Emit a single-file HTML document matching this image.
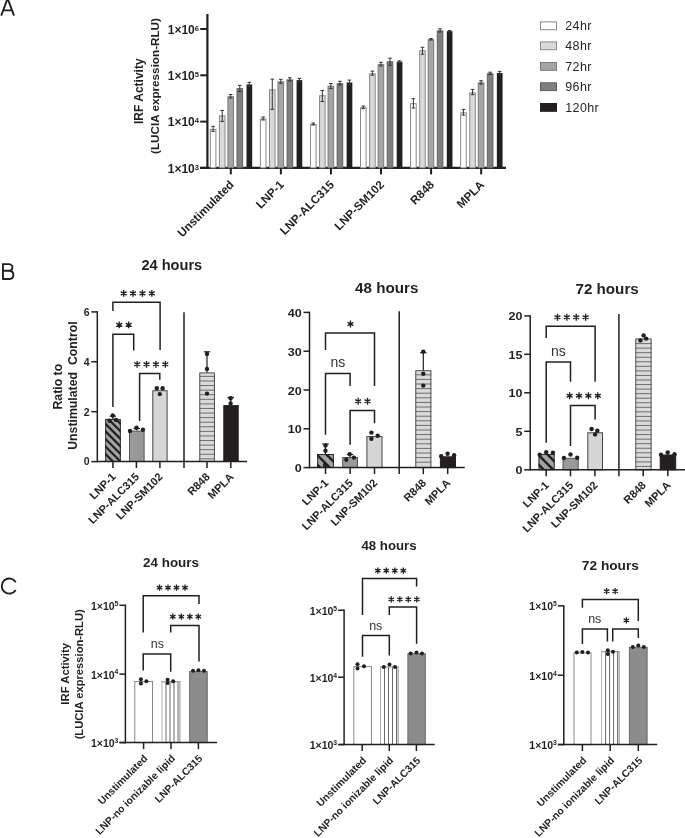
<!DOCTYPE html>
<html><head><meta charset="utf-8"><style>
html,body{margin:0;padding:0;background:#fff;}
body{width:685px;height:838px;overflow:hidden;}
svg{display:block;font-family:"Liberation Sans", sans-serif;will-change:transform;}
</style></head><body>
<svg width="685" height="838" viewBox="0 0 685 838">
<rect width="685" height="838" fill="#ffffff"/>
<path d="M1.2,15.7 L7.6,-1.6 L14.0,15.7 M3.9,10.4 L11.3,10.4" fill="none" stroke="#231f20" stroke-width="1.9" stroke-linejoin="miter"/>
<path d="M2.95,263.2 V279.8 M2.95,264.1 H8.4 C11.2,264.1 12.4,265.6 12.4,267.4 C12.4,269.4 10.9,270.8 8.4,270.8 H2.95 M8.4,270.8 C11.9,270.8 13.4,272.6 13.4,274.9 C13.4,277.4 11.5,278.95 8.6,278.95 H2.95" fill="none" stroke="#231f20" stroke-width="1.9"/>
<path d="M15.72,582.16 A7.55,7.55 0 1 0 15.72,589.94" fill="none" stroke="#231f20" stroke-width="1.9"/>
<line x1="207.40" y1="14.00" x2="207.40" y2="168.90" stroke="#231f20" stroke-width="2.2" stroke-linecap="butt"/>
<line x1="200.00" y1="167.90" x2="506.00" y2="167.90" stroke="#231f20" stroke-width="2.2" stroke-linecap="butt"/>
<line x1="200.20" y1="29.00" x2="207.40" y2="29.00" stroke="#231f20" stroke-width="2.0" stroke-linecap="butt"/>
<text x="199.00" y="33.60" font-size="12" font-weight="bold" text-anchor="end" fill="#231f20">1×10<tspan font-size="7.6" dy="-2.88">6</tspan></text>
<line x1="200.20" y1="75.30" x2="207.40" y2="75.30" stroke="#231f20" stroke-width="2.0" stroke-linecap="butt"/>
<text x="199.00" y="79.90" font-size="12" font-weight="bold" text-anchor="end" fill="#231f20">1×10<tspan font-size="7.6" dy="-2.88">5</tspan></text>
<line x1="200.20" y1="121.60" x2="207.40" y2="121.60" stroke="#231f20" stroke-width="2.0" stroke-linecap="butt"/>
<text x="199.00" y="126.20" font-size="12" font-weight="bold" text-anchor="end" fill="#231f20">1×10<tspan font-size="7.6" dy="-2.88">4</tspan></text>
<line x1="200.20" y1="167.90" x2="207.40" y2="167.90" stroke="#231f20" stroke-width="2.0" stroke-linecap="butt"/>
<text x="199.00" y="172.50" font-size="12" font-weight="bold" text-anchor="end" fill="#231f20">1×10<tspan font-size="7.6" dy="-2.88">3</tspan></text>
<rect x="210.30" y="129.50" width="5.60" height="38.40" fill="#ffffff" stroke="#8a8a8a" stroke-width="1"/>
<line x1="213.10" y1="126.30" x2="213.10" y2="131.30" stroke="#333333" stroke-width="1" stroke-linecap="butt"/>
<line x1="211.30" y1="126.30" x2="214.90" y2="126.30" stroke="#333333" stroke-width="1" stroke-linecap="butt"/>
<line x1="211.30" y1="131.30" x2="214.90" y2="131.30" stroke="#333333" stroke-width="1" stroke-linecap="butt"/>
<rect x="219.40" y="115.90" width="5.60" height="52.00" fill="#d9d9d9" stroke="#8a8a8a" stroke-width="1"/>
<line x1="222.20" y1="110.40" x2="222.20" y2="121.40" stroke="#333333" stroke-width="1" stroke-linecap="butt"/>
<line x1="220.40" y1="110.40" x2="224.00" y2="110.40" stroke="#333333" stroke-width="1" stroke-linecap="butt"/>
<line x1="220.40" y1="121.40" x2="224.00" y2="121.40" stroke="#333333" stroke-width="1" stroke-linecap="butt"/>
<rect x="227.90" y="96.70" width="5.60" height="71.20" fill="#a5a5a5" stroke="#7a7a7a" stroke-width="1"/>
<line x1="230.70" y1="94.50" x2="230.70" y2="98.00" stroke="#333333" stroke-width="1" stroke-linecap="butt"/>
<line x1="228.90" y1="94.50" x2="232.50" y2="94.50" stroke="#333333" stroke-width="1" stroke-linecap="butt"/>
<line x1="228.90" y1="98.00" x2="232.50" y2="98.00" stroke="#333333" stroke-width="1" stroke-linecap="butt"/>
<rect x="237.00" y="88.70" width="5.60" height="79.20" fill="#7f7f7f" stroke="#606060" stroke-width="1"/>
<line x1="239.80" y1="85.40" x2="239.80" y2="91.50" stroke="#333333" stroke-width="1" stroke-linecap="butt"/>
<line x1="238.00" y1="85.40" x2="241.60" y2="85.40" stroke="#333333" stroke-width="1" stroke-linecap="butt"/>
<line x1="238.00" y1="91.50" x2="241.60" y2="91.50" stroke="#333333" stroke-width="1" stroke-linecap="butt"/>
<rect x="246.50" y="84.50" width="5.70" height="83.40" fill="#231f20"/>
<line x1="249.30" y1="82.30" x2="249.30" y2="86.50" stroke="#333333" stroke-width="1" stroke-linecap="butt"/>
<line x1="247.50" y1="82.30" x2="251.10" y2="82.30" stroke="#333333" stroke-width="1" stroke-linecap="butt"/>
<line x1="247.50" y1="86.50" x2="251.10" y2="86.50" stroke="#333333" stroke-width="1" stroke-linecap="butt"/>
<line x1="230.80" y1="167.90" x2="230.80" y2="174.40" stroke="#231f20" stroke-width="2.0" stroke-linecap="butt"/>
<rect x="260.37" y="119.00" width="5.60" height="48.90" fill="#ffffff" stroke="#8a8a8a" stroke-width="1"/>
<line x1="263.17" y1="117.00" x2="263.17" y2="120.00" stroke="#333333" stroke-width="1" stroke-linecap="butt"/>
<line x1="261.37" y1="117.00" x2="264.97" y2="117.00" stroke="#333333" stroke-width="1" stroke-linecap="butt"/>
<line x1="261.37" y1="120.00" x2="264.97" y2="120.00" stroke="#333333" stroke-width="1" stroke-linecap="butt"/>
<rect x="269.47" y="89.80" width="5.60" height="78.10" fill="#d9d9d9" stroke="#8a8a8a" stroke-width="1"/>
<line x1="272.27" y1="79.10" x2="272.27" y2="109.30" stroke="#333333" stroke-width="1" stroke-linecap="butt"/>
<line x1="270.47" y1="79.10" x2="274.07" y2="79.10" stroke="#333333" stroke-width="1" stroke-linecap="butt"/>
<line x1="270.47" y1="109.30" x2="274.07" y2="109.30" stroke="#333333" stroke-width="1" stroke-linecap="butt"/>
<rect x="277.97" y="81.80" width="5.60" height="86.10" fill="#a5a5a5" stroke="#7a7a7a" stroke-width="1"/>
<line x1="280.77" y1="79.30" x2="280.77" y2="83.30" stroke="#333333" stroke-width="1" stroke-linecap="butt"/>
<line x1="278.97" y1="79.30" x2="282.57" y2="79.30" stroke="#333333" stroke-width="1" stroke-linecap="butt"/>
<line x1="278.97" y1="83.30" x2="282.57" y2="83.30" stroke="#333333" stroke-width="1" stroke-linecap="butt"/>
<rect x="287.07" y="79.90" width="5.60" height="88.00" fill="#7f7f7f" stroke="#606060" stroke-width="1"/>
<line x1="289.87" y1="77.70" x2="289.87" y2="81.00" stroke="#333333" stroke-width="1" stroke-linecap="butt"/>
<line x1="288.07" y1="77.70" x2="291.67" y2="77.70" stroke="#333333" stroke-width="1" stroke-linecap="butt"/>
<line x1="288.07" y1="81.00" x2="291.67" y2="81.00" stroke="#333333" stroke-width="1" stroke-linecap="butt"/>
<rect x="296.57" y="80.10" width="5.70" height="87.80" fill="#231f20"/>
<line x1="299.37" y1="78.40" x2="299.37" y2="81.80" stroke="#333333" stroke-width="1" stroke-linecap="butt"/>
<line x1="297.57" y1="78.40" x2="301.17" y2="78.40" stroke="#333333" stroke-width="1" stroke-linecap="butt"/>
<line x1="297.57" y1="81.80" x2="301.17" y2="81.80" stroke="#333333" stroke-width="1" stroke-linecap="butt"/>
<line x1="280.87" y1="167.90" x2="280.87" y2="174.40" stroke="#231f20" stroke-width="2.0" stroke-linecap="butt"/>
<rect x="310.44" y="124.50" width="5.60" height="43.40" fill="#ffffff" stroke="#8a8a8a" stroke-width="1"/>
<line x1="313.24" y1="123.00" x2="313.24" y2="125.00" stroke="#333333" stroke-width="1" stroke-linecap="butt"/>
<line x1="311.44" y1="123.00" x2="315.04" y2="123.00" stroke="#333333" stroke-width="1" stroke-linecap="butt"/>
<line x1="311.44" y1="125.00" x2="315.04" y2="125.00" stroke="#333333" stroke-width="1" stroke-linecap="butt"/>
<rect x="319.54" y="95.70" width="5.60" height="72.20" fill="#d9d9d9" stroke="#8a8a8a" stroke-width="1"/>
<line x1="322.34" y1="90.40" x2="322.34" y2="101.50" stroke="#333333" stroke-width="1" stroke-linecap="butt"/>
<line x1="320.54" y1="90.40" x2="324.14" y2="90.40" stroke="#333333" stroke-width="1" stroke-linecap="butt"/>
<line x1="320.54" y1="101.50" x2="324.14" y2="101.50" stroke="#333333" stroke-width="1" stroke-linecap="butt"/>
<rect x="328.04" y="86.20" width="5.60" height="81.70" fill="#a5a5a5" stroke="#7a7a7a" stroke-width="1"/>
<line x1="330.84" y1="83.50" x2="330.84" y2="88.60" stroke="#333333" stroke-width="1" stroke-linecap="butt"/>
<line x1="329.04" y1="83.50" x2="332.64" y2="83.50" stroke="#333333" stroke-width="1" stroke-linecap="butt"/>
<line x1="329.04" y1="88.60" x2="332.64" y2="88.60" stroke="#333333" stroke-width="1" stroke-linecap="butt"/>
<rect x="337.14" y="83.70" width="5.60" height="84.20" fill="#7f7f7f" stroke="#606060" stroke-width="1"/>
<line x1="339.94" y1="81.30" x2="339.94" y2="85.00" stroke="#333333" stroke-width="1" stroke-linecap="butt"/>
<line x1="338.14" y1="81.30" x2="341.74" y2="81.30" stroke="#333333" stroke-width="1" stroke-linecap="butt"/>
<line x1="338.14" y1="85.00" x2="341.74" y2="85.00" stroke="#333333" stroke-width="1" stroke-linecap="butt"/>
<rect x="346.64" y="82.50" width="5.70" height="85.40" fill="#231f20"/>
<line x1="349.44" y1="80.10" x2="349.44" y2="84.50" stroke="#333333" stroke-width="1" stroke-linecap="butt"/>
<line x1="347.64" y1="80.10" x2="351.24" y2="80.10" stroke="#333333" stroke-width="1" stroke-linecap="butt"/>
<line x1="347.64" y1="84.50" x2="351.24" y2="84.50" stroke="#333333" stroke-width="1" stroke-linecap="butt"/>
<line x1="330.94" y1="167.90" x2="330.94" y2="174.40" stroke="#231f20" stroke-width="2.0" stroke-linecap="butt"/>
<rect x="360.51" y="107.80" width="5.60" height="60.10" fill="#ffffff" stroke="#8a8a8a" stroke-width="1"/>
<line x1="363.31" y1="106.00" x2="363.31" y2="108.60" stroke="#333333" stroke-width="1" stroke-linecap="butt"/>
<line x1="361.51" y1="106.00" x2="365.11" y2="106.00" stroke="#333333" stroke-width="1" stroke-linecap="butt"/>
<line x1="361.51" y1="108.60" x2="365.11" y2="108.60" stroke="#333333" stroke-width="1" stroke-linecap="butt"/>
<rect x="369.61" y="73.80" width="5.60" height="94.10" fill="#d9d9d9" stroke="#8a8a8a" stroke-width="1"/>
<line x1="372.41" y1="71.10" x2="372.41" y2="75.20" stroke="#333333" stroke-width="1" stroke-linecap="butt"/>
<line x1="370.61" y1="71.10" x2="374.21" y2="71.10" stroke="#333333" stroke-width="1" stroke-linecap="butt"/>
<line x1="370.61" y1="75.20" x2="374.21" y2="75.20" stroke="#333333" stroke-width="1" stroke-linecap="butt"/>
<rect x="378.11" y="64.60" width="5.60" height="103.30" fill="#a5a5a5" stroke="#7a7a7a" stroke-width="1"/>
<line x1="380.91" y1="62.30" x2="380.91" y2="66.00" stroke="#333333" stroke-width="1" stroke-linecap="butt"/>
<line x1="379.11" y1="62.30" x2="382.71" y2="62.30" stroke="#333333" stroke-width="1" stroke-linecap="butt"/>
<line x1="379.11" y1="66.00" x2="382.71" y2="66.00" stroke="#333333" stroke-width="1" stroke-linecap="butt"/>
<rect x="387.21" y="61.80" width="5.60" height="106.10" fill="#7f7f7f" stroke="#606060" stroke-width="1"/>
<line x1="390.01" y1="58.20" x2="390.01" y2="65.30" stroke="#333333" stroke-width="1" stroke-linecap="butt"/>
<line x1="388.21" y1="58.20" x2="391.81" y2="58.20" stroke="#333333" stroke-width="1" stroke-linecap="butt"/>
<line x1="388.21" y1="65.30" x2="391.81" y2="65.30" stroke="#333333" stroke-width="1" stroke-linecap="butt"/>
<rect x="396.71" y="61.60" width="5.70" height="106.30" fill="#231f20"/>
<line x1="399.51" y1="60.80" x2="399.51" y2="62.50" stroke="#333333" stroke-width="1" stroke-linecap="butt"/>
<line x1="397.71" y1="60.80" x2="401.31" y2="60.80" stroke="#333333" stroke-width="1" stroke-linecap="butt"/>
<line x1="397.71" y1="62.50" x2="401.31" y2="62.50" stroke="#333333" stroke-width="1" stroke-linecap="butt"/>
<line x1="381.01" y1="167.90" x2="381.01" y2="174.40" stroke="#231f20" stroke-width="2.0" stroke-linecap="butt"/>
<rect x="410.58" y="103.70" width="5.60" height="64.20" fill="#ffffff" stroke="#8a8a8a" stroke-width="1"/>
<line x1="413.38" y1="98.70" x2="413.38" y2="108.00" stroke="#333333" stroke-width="1" stroke-linecap="butt"/>
<line x1="411.58" y1="98.70" x2="415.18" y2="98.70" stroke="#333333" stroke-width="1" stroke-linecap="butt"/>
<line x1="411.58" y1="108.00" x2="415.18" y2="108.00" stroke="#333333" stroke-width="1" stroke-linecap="butt"/>
<rect x="419.68" y="50.70" width="5.60" height="117.20" fill="#d9d9d9" stroke="#8a8a8a" stroke-width="1"/>
<line x1="422.48" y1="47.30" x2="422.48" y2="54.20" stroke="#333333" stroke-width="1" stroke-linecap="butt"/>
<line x1="420.68" y1="47.30" x2="424.28" y2="47.30" stroke="#333333" stroke-width="1" stroke-linecap="butt"/>
<line x1="420.68" y1="54.20" x2="424.28" y2="54.20" stroke="#333333" stroke-width="1" stroke-linecap="butt"/>
<rect x="428.18" y="39.80" width="5.60" height="128.10" fill="#a5a5a5" stroke="#7a7a7a" stroke-width="1"/>
<line x1="430.98" y1="38.60" x2="430.98" y2="40.00" stroke="#333333" stroke-width="1" stroke-linecap="butt"/>
<line x1="429.18" y1="38.60" x2="432.78" y2="38.60" stroke="#333333" stroke-width="1" stroke-linecap="butt"/>
<line x1="429.18" y1="40.00" x2="432.78" y2="40.00" stroke="#333333" stroke-width="1" stroke-linecap="butt"/>
<rect x="437.28" y="30.90" width="5.60" height="137.00" fill="#7f7f7f" stroke="#606060" stroke-width="1"/>
<line x1="440.08" y1="28.80" x2="440.08" y2="32.00" stroke="#333333" stroke-width="1" stroke-linecap="butt"/>
<line x1="438.28" y1="28.80" x2="441.88" y2="28.80" stroke="#333333" stroke-width="1" stroke-linecap="butt"/>
<line x1="438.28" y1="32.00" x2="441.88" y2="32.00" stroke="#333333" stroke-width="1" stroke-linecap="butt"/>
<rect x="446.78" y="31.20" width="5.70" height="136.70" fill="#231f20"/>
<line x1="449.58" y1="30.50" x2="449.58" y2="32.00" stroke="#333333" stroke-width="1" stroke-linecap="butt"/>
<line x1="447.78" y1="30.50" x2="451.38" y2="30.50" stroke="#333333" stroke-width="1" stroke-linecap="butt"/>
<line x1="447.78" y1="32.00" x2="451.38" y2="32.00" stroke="#333333" stroke-width="1" stroke-linecap="butt"/>
<line x1="431.08" y1="167.90" x2="431.08" y2="174.40" stroke="#231f20" stroke-width="2.0" stroke-linecap="butt"/>
<rect x="460.65" y="112.80" width="5.60" height="55.10" fill="#ffffff" stroke="#8a8a8a" stroke-width="1"/>
<line x1="463.45" y1="109.40" x2="463.45" y2="115.10" stroke="#333333" stroke-width="1" stroke-linecap="butt"/>
<line x1="461.65" y1="109.40" x2="465.25" y2="109.40" stroke="#333333" stroke-width="1" stroke-linecap="butt"/>
<line x1="461.65" y1="115.10" x2="465.25" y2="115.10" stroke="#333333" stroke-width="1" stroke-linecap="butt"/>
<rect x="469.75" y="92.80" width="5.60" height="75.10" fill="#d9d9d9" stroke="#8a8a8a" stroke-width="1"/>
<line x1="472.55" y1="89.40" x2="472.55" y2="94.70" stroke="#333333" stroke-width="1" stroke-linecap="butt"/>
<line x1="470.75" y1="89.40" x2="474.35" y2="89.40" stroke="#333333" stroke-width="1" stroke-linecap="butt"/>
<line x1="470.75" y1="94.70" x2="474.35" y2="94.70" stroke="#333333" stroke-width="1" stroke-linecap="butt"/>
<rect x="478.25" y="82.80" width="5.60" height="85.10" fill="#a5a5a5" stroke="#7a7a7a" stroke-width="1"/>
<line x1="481.05" y1="80.70" x2="481.05" y2="84.00" stroke="#333333" stroke-width="1" stroke-linecap="butt"/>
<line x1="479.25" y1="80.70" x2="482.85" y2="80.70" stroke="#333333" stroke-width="1" stroke-linecap="butt"/>
<line x1="479.25" y1="84.00" x2="482.85" y2="84.00" stroke="#333333" stroke-width="1" stroke-linecap="butt"/>
<rect x="487.35" y="73.80" width="5.60" height="94.10" fill="#7f7f7f" stroke="#606060" stroke-width="1"/>
<line x1="490.15" y1="72.20" x2="490.15" y2="74.50" stroke="#333333" stroke-width="1" stroke-linecap="butt"/>
<line x1="488.35" y1="72.20" x2="491.95" y2="72.20" stroke="#333333" stroke-width="1" stroke-linecap="butt"/>
<line x1="488.35" y1="74.50" x2="491.95" y2="74.50" stroke="#333333" stroke-width="1" stroke-linecap="butt"/>
<rect x="496.85" y="73.00" width="5.70" height="94.90" fill="#231f20"/>
<line x1="499.65" y1="71.40" x2="499.65" y2="74.50" stroke="#333333" stroke-width="1" stroke-linecap="butt"/>
<line x1="497.85" y1="71.40" x2="501.45" y2="71.40" stroke="#333333" stroke-width="1" stroke-linecap="butt"/>
<line x1="497.85" y1="74.50" x2="501.45" y2="74.50" stroke="#333333" stroke-width="1" stroke-linecap="butt"/>
<line x1="481.15" y1="167.90" x2="481.15" y2="174.40" stroke="#231f20" stroke-width="2.0" stroke-linecap="butt"/>
<text x="234.60" y="185.40" font-size="11.7" font-weight="bold" text-anchor="end" fill="#231f20" transform="rotate(-45 234.60 185.40)">Unstimulated</text>
<text x="284.67" y="185.40" font-size="11.7" font-weight="bold" text-anchor="end" fill="#231f20" transform="rotate(-45 284.67 185.40)">LNP-1</text>
<text x="334.74" y="185.40" font-size="11.7" font-weight="bold" text-anchor="end" fill="#231f20" transform="rotate(-45 334.74 185.40)">LNP-ALC315</text>
<text x="384.81" y="185.40" font-size="11.7" font-weight="bold" text-anchor="end" fill="#231f20" transform="rotate(-45 384.81 185.40)">LNP-SM102</text>
<text x="434.88" y="185.40" font-size="11.7" font-weight="bold" text-anchor="end" fill="#231f20" transform="rotate(-45 434.88 185.40)">R848</text>
<text x="484.95" y="185.40" font-size="11.7" font-weight="bold" text-anchor="end" fill="#231f20" transform="rotate(-45 484.95 185.40)">MPLA</text>
<text x="142.80" y="91.20" font-size="12" font-weight="bold" text-anchor="middle" fill="#231f20" transform="rotate(-90 142.80 91.20)">IRF Activity</text>
<text x="158.60" y="86.00" font-size="11.7" font-weight="bold" text-anchor="middle" fill="#231f20" transform="rotate(-90 158.60 86.00)">(LUCIA expression-RLU)</text>
<rect x="540.50" y="21.90" width="16.00" height="7.80" fill="#ffffff" stroke="#8a8a8a" stroke-width="1"/>
<text x="565.30" y="30.00" font-size="12.5" font-weight="normal" text-anchor="start" fill="#262626" letter-spacing="0.35">24hr</text>
<rect x="540.50" y="41.90" width="16.00" height="7.80" fill="#d9d9d9" stroke="#8a8a8a" stroke-width="1"/>
<text x="565.30" y="50.00" font-size="12.5" font-weight="normal" text-anchor="start" fill="#262626" letter-spacing="0.35">48hr</text>
<rect x="540.50" y="62.50" width="16.00" height="7.80" fill="#a5a5a5" stroke="#7a7a7a" stroke-width="1"/>
<text x="565.30" y="70.60" font-size="12.5" font-weight="normal" text-anchor="start" fill="#262626" letter-spacing="0.35">72hr</text>
<rect x="540.50" y="82.80" width="16.00" height="7.80" fill="#7f7f7f" stroke="#606060" stroke-width="1"/>
<text x="565.30" y="90.90" font-size="12.5" font-weight="normal" text-anchor="start" fill="#262626" letter-spacing="0.35">96hr</text>
<rect x="540.50" y="103.50" width="16.00" height="7.80" fill="#231f20" stroke="#231f20" stroke-width="1"/>
<text x="565.30" y="111.60" font-size="12.5" font-weight="normal" text-anchor="start" fill="#262626" letter-spacing="0.35">120hr</text>
<defs><clipPath id="c1"><rect x="105.30" y="419.00" width="15.40" height="42.50"/></clipPath></defs>
<rect x="105.30" y="419.00" width="15.40" height="42.50" fill="#a3a3a3"/>
<g clip-path="url(#c1)">
<line x1="100.30" y1="380.90" x2="125.70" y2="406.30" stroke="#231f20" stroke-width="2.2"/>
<line x1="100.30" y1="388.45" x2="125.70" y2="413.85" stroke="#231f20" stroke-width="2.2"/>
<line x1="100.30" y1="396.00" x2="125.70" y2="421.40" stroke="#231f20" stroke-width="2.2"/>
<line x1="100.30" y1="403.55" x2="125.70" y2="428.95" stroke="#231f20" stroke-width="2.2"/>
<line x1="100.30" y1="411.10" x2="125.70" y2="436.50" stroke="#231f20" stroke-width="2.2"/>
<line x1="100.30" y1="418.65" x2="125.70" y2="444.05" stroke="#231f20" stroke-width="2.2"/>
<line x1="100.30" y1="426.20" x2="125.70" y2="451.60" stroke="#231f20" stroke-width="2.2"/>
<line x1="100.30" y1="433.75" x2="125.70" y2="459.15" stroke="#231f20" stroke-width="2.2"/>
<line x1="100.30" y1="441.30" x2="125.70" y2="466.70" stroke="#231f20" stroke-width="2.2"/>
<line x1="100.30" y1="448.85" x2="125.70" y2="474.25" stroke="#231f20" stroke-width="2.2"/>
<line x1="100.30" y1="456.40" x2="125.70" y2="481.80" stroke="#231f20" stroke-width="2.2"/>
<line x1="100.30" y1="463.95" x2="125.70" y2="489.35" stroke="#231f20" stroke-width="2.2"/>
</g>
<rect x="105.70" y="419.40" width="14.60" height="42.10" fill="none" stroke="#231f20" stroke-width="0.9"/>
<rect x="129.50" y="431.10" width="14.60" height="30.40" fill="#999999" stroke="#555555" stroke-width="1"/>
<rect x="152.80" y="390.70" width="14.30" height="70.80" fill="#d6d6d6" stroke="#444444" stroke-width="1"/>
<rect x="199.40" y="372.50" width="15.40" height="89.00" fill="#dadada"/>
<line x1="199.40" y1="376.40" x2="214.80" y2="376.40" stroke="#5a5a5a" stroke-width="0.85" stroke-linecap="butt"/>
<line x1="199.40" y1="380.98" x2="214.80" y2="380.98" stroke="#5a5a5a" stroke-width="0.85" stroke-linecap="butt"/>
<line x1="199.40" y1="385.56" x2="214.80" y2="385.56" stroke="#5a5a5a" stroke-width="0.85" stroke-linecap="butt"/>
<line x1="199.40" y1="390.14" x2="214.80" y2="390.14" stroke="#5a5a5a" stroke-width="0.85" stroke-linecap="butt"/>
<line x1="199.40" y1="394.72" x2="214.80" y2="394.72" stroke="#5a5a5a" stroke-width="0.85" stroke-linecap="butt"/>
<line x1="199.40" y1="399.30" x2="214.80" y2="399.30" stroke="#5a5a5a" stroke-width="0.85" stroke-linecap="butt"/>
<line x1="199.40" y1="403.88" x2="214.80" y2="403.88" stroke="#5a5a5a" stroke-width="0.85" stroke-linecap="butt"/>
<line x1="199.40" y1="408.46" x2="214.80" y2="408.46" stroke="#5a5a5a" stroke-width="0.85" stroke-linecap="butt"/>
<line x1="199.40" y1="413.04" x2="214.80" y2="413.04" stroke="#5a5a5a" stroke-width="0.85" stroke-linecap="butt"/>
<line x1="199.40" y1="417.62" x2="214.80" y2="417.62" stroke="#5a5a5a" stroke-width="0.85" stroke-linecap="butt"/>
<line x1="199.40" y1="422.20" x2="214.80" y2="422.20" stroke="#5a5a5a" stroke-width="0.85" stroke-linecap="butt"/>
<line x1="199.40" y1="426.78" x2="214.80" y2="426.78" stroke="#5a5a5a" stroke-width="0.85" stroke-linecap="butt"/>
<line x1="199.40" y1="431.36" x2="214.80" y2="431.36" stroke="#5a5a5a" stroke-width="0.85" stroke-linecap="butt"/>
<line x1="199.40" y1="435.94" x2="214.80" y2="435.94" stroke="#5a5a5a" stroke-width="0.85" stroke-linecap="butt"/>
<line x1="199.40" y1="440.52" x2="214.80" y2="440.52" stroke="#5a5a5a" stroke-width="0.85" stroke-linecap="butt"/>
<line x1="199.40" y1="445.10" x2="214.80" y2="445.10" stroke="#5a5a5a" stroke-width="0.85" stroke-linecap="butt"/>
<line x1="199.40" y1="449.68" x2="214.80" y2="449.68" stroke="#5a5a5a" stroke-width="0.85" stroke-linecap="butt"/>
<line x1="199.40" y1="454.26" x2="214.80" y2="454.26" stroke="#5a5a5a" stroke-width="0.85" stroke-linecap="butt"/>
<line x1="199.40" y1="458.84" x2="214.80" y2="458.84" stroke="#5a5a5a" stroke-width="0.85" stroke-linecap="butt"/>
<rect x="199.80" y="372.90" width="14.60" height="88.60" fill="none" stroke="#444444" stroke-width="0.9"/>
<rect x="223.80" y="405.60" width="14.40" height="55.90" fill="#231f20" stroke="#231f20" stroke-width="1"/>
<line x1="97.30" y1="311.15" x2="97.30" y2="462.25" stroke="#231f20" stroke-width="1.5" stroke-linecap="butt"/>
<line x1="97.30" y1="461.50" x2="247.00" y2="461.50" stroke="#231f20" stroke-width="1.5" stroke-linecap="butt"/>
<line x1="91.30" y1="461.60" x2="97.30" y2="461.60" stroke="#231f20" stroke-width="1.5" stroke-linecap="butt"/>
<text transform="translate(89.60 465.40) scale(1.0 1)" font-size="10.5" font-weight="bold" text-anchor="end" fill="#231f20">0</text>
<line x1="91.30" y1="411.70" x2="97.30" y2="411.70" stroke="#231f20" stroke-width="1.5" stroke-linecap="butt"/>
<text transform="translate(89.60 415.50) scale(1.0 1)" font-size="10.5" font-weight="bold" text-anchor="end" fill="#231f20">2</text>
<line x1="91.30" y1="361.80" x2="97.30" y2="361.80" stroke="#231f20" stroke-width="1.5" stroke-linecap="butt"/>
<text transform="translate(89.60 365.60) scale(1.0 1)" font-size="10.5" font-weight="bold" text-anchor="end" fill="#231f20">4</text>
<line x1="91.30" y1="311.90" x2="97.30" y2="311.90" stroke="#231f20" stroke-width="1.5" stroke-linecap="butt"/>
<text transform="translate(89.60 315.70) scale(1.0 1)" font-size="10.5" font-weight="bold" text-anchor="end" fill="#231f20">6</text>
<line x1="184.00" y1="312.20" x2="184.00" y2="468.00" stroke="#231f20" stroke-width="1.5" stroke-linecap="butt"/>
<line x1="112.90" y1="461.50" x2="112.90" y2="468.00" stroke="#231f20" stroke-width="1.5" stroke-linecap="butt"/>
<line x1="136.40" y1="461.50" x2="136.40" y2="468.00" stroke="#231f20" stroke-width="1.5" stroke-linecap="butt"/>
<line x1="159.90" y1="461.50" x2="159.90" y2="468.00" stroke="#231f20" stroke-width="1.5" stroke-linecap="butt"/>
<line x1="207.00" y1="461.50" x2="207.00" y2="468.00" stroke="#231f20" stroke-width="1.5" stroke-linecap="butt"/>
<line x1="230.80" y1="461.50" x2="230.80" y2="468.00" stroke="#231f20" stroke-width="1.5" stroke-linecap="butt"/>
<line x1="112.90" y1="416.20" x2="112.90" y2="419.00" stroke="#231f20" stroke-width="1.2" stroke-linecap="butt"/>
<line x1="109.70" y1="416.20" x2="116.10" y2="416.20" stroke="#231f20" stroke-width="1.2" stroke-linecap="butt"/>
<line x1="207.00" y1="351.80" x2="207.00" y2="372.50" stroke="#231f20" stroke-width="1.2" stroke-linecap="butt"/>
<line x1="203.80" y1="351.80" x2="210.20" y2="351.80" stroke="#231f20" stroke-width="1.2" stroke-linecap="butt"/>
<line x1="230.80" y1="397.40" x2="230.80" y2="405.10" stroke="#231f20" stroke-width="1.2" stroke-linecap="butt"/>
<line x1="227.60" y1="397.40" x2="234.00" y2="397.40" stroke="#231f20" stroke-width="1.2" stroke-linecap="butt"/>
<line x1="136.80" y1="428.50" x2="136.80" y2="430.60" stroke="#231f20" stroke-width="1.2" stroke-linecap="butt"/>
<line x1="133.60" y1="428.50" x2="140.00" y2="428.50" stroke="#231f20" stroke-width="1.2" stroke-linecap="butt"/>
<circle cx="112.80" cy="415.50" r="2.2" fill="#231f20"/>
<circle cx="109.60" cy="420.80" r="2.2" fill="#231f20"/>
<circle cx="116.00" cy="419.90" r="2.2" fill="#231f20"/>
<circle cx="130.00" cy="431.00" r="2.2" fill="#231f20"/>
<circle cx="136.50" cy="427.80" r="2.2" fill="#231f20"/>
<circle cx="142.90" cy="429.80" r="2.2" fill="#231f20"/>
<circle cx="156.80" cy="388.20" r="2.2" fill="#231f20"/>
<circle cx="162.60" cy="388.20" r="2.2" fill="#231f20"/>
<circle cx="159.80" cy="394.10" r="2.2" fill="#231f20"/>
<circle cx="207.00" cy="353.90" r="2.2" fill="#231f20"/>
<circle cx="207.00" cy="368.90" r="2.2" fill="#231f20"/>
<circle cx="207.00" cy="393.60" r="2.2" fill="#231f20"/>
<circle cx="230.60" cy="398.30" r="2.2" fill="#231f20"/>
<circle cx="230.60" cy="403.40" r="2.2" fill="#231f20"/>
<polyline points="112.90,310.90 112.90,302.20 160.10,302.20 160.10,350.10" fill="none" stroke="#231f20" stroke-width="1.5" stroke-linejoin="miter"/>
<path d="M123.65,290.00L123.65,296.80M120.71,291.70L126.59,295.10M126.59,291.70L120.71,295.10M133.05,290.00L133.05,296.80M130.11,291.70L135.99,295.10M135.99,291.70L130.11,295.10M142.45,290.00L142.45,296.80M139.51,291.70L145.39,295.10M145.39,291.70L139.51,295.10M151.85,290.00L151.85,296.80M148.91,291.70L154.79,295.10M154.79,291.70L148.91,295.10" stroke="#231f20" stroke-width="1.35" fill="none"/>
<polyline points="112.90,407.00 112.90,334.30 133.70,334.30 133.70,350.50" fill="none" stroke="#231f20" stroke-width="1.5" stroke-linejoin="miter"/>
<path d="M119.25,321.45L119.25,328.25M116.31,323.15L122.19,326.55M122.19,323.15L116.31,326.55M128.65,321.45L128.65,328.25M125.71,323.15L131.59,326.55M131.59,323.15L125.71,326.55" stroke="#231f20" stroke-width="1.35" fill="none"/>
<polyline points="139.60,421.00 139.60,373.50 159.80,373.50 159.80,379.70" fill="none" stroke="#231f20" stroke-width="1.5" stroke-linejoin="miter"/>
<path d="M137.10,360.90L137.10,367.70M134.16,362.60L140.04,366.00M140.04,362.60L134.16,366.00M146.50,360.90L146.50,367.70M143.56,362.60L149.44,366.00M149.44,362.60L143.56,366.00M155.90,360.90L155.90,367.70M152.96,362.60L158.84,366.00M158.84,362.60L152.96,366.00M165.30,360.90L165.30,367.70M162.36,362.60L168.24,366.00M168.24,362.60L162.36,366.00" stroke="#231f20" stroke-width="1.35" fill="none"/>
<text x="171.80" y="270.30" font-size="14.6" font-weight="bold" text-anchor="middle" fill="#231f20">24 hours</text>
<text x="116.40" y="477.50" font-size="11" font-weight="bold" text-anchor="end" fill="#231f20" transform="rotate(-45 116.40 477.50)">LNP-1</text>
<text x="139.90" y="477.50" font-size="11" font-weight="bold" text-anchor="end" fill="#231f20" transform="rotate(-45 139.90 477.50)">LNP-ALC315</text>
<text x="163.40" y="477.50" font-size="11" font-weight="bold" text-anchor="end" fill="#231f20" transform="rotate(-45 163.40 477.50)">LNP-SM102</text>
<text x="210.50" y="477.50" font-size="11" font-weight="bold" text-anchor="end" fill="#231f20" transform="rotate(-45 210.50 477.50)">R848</text>
<text x="234.30" y="477.50" font-size="11" font-weight="bold" text-anchor="end" fill="#231f20" transform="rotate(-45 234.30 477.50)">MPLA</text>
<defs><clipPath id="c2"><rect x="317.30" y="454.10" width="16.50" height="13.50"/></clipPath></defs>
<rect x="317.30" y="454.10" width="16.50" height="13.50" fill="#a3a3a3"/>
<g clip-path="url(#c2)">
<line x1="312.30" y1="421.00" x2="338.80" y2="447.50" stroke="#231f20" stroke-width="2.5"/>
<line x1="312.30" y1="430.70" x2="338.80" y2="457.20" stroke="#231f20" stroke-width="2.5"/>
<line x1="312.30" y1="440.40" x2="338.80" y2="466.90" stroke="#231f20" stroke-width="2.5"/>
<line x1="312.30" y1="450.10" x2="338.80" y2="476.60" stroke="#231f20" stroke-width="2.5"/>
<line x1="312.30" y1="459.80" x2="338.80" y2="486.30" stroke="#231f20" stroke-width="2.5"/>
<line x1="312.30" y1="469.50" x2="338.80" y2="496.00" stroke="#231f20" stroke-width="2.5"/>
</g>
<rect x="317.70" y="454.50" width="15.70" height="13.10" fill="none" stroke="#231f20" stroke-width="0.9"/>
<rect x="342.70" y="457.50" width="14.80" height="10.10" fill="#999999" stroke="#555555" stroke-width="1"/>
<rect x="366.90" y="436.60" width="15.10" height="31.00" fill="#d6d6d6" stroke="#444444" stroke-width="1"/>
<rect x="415.40" y="370.30" width="15.90" height="97.30" fill="#dadada"/>
<line x1="415.40" y1="374.80" x2="431.30" y2="374.80" stroke="#5a5a5a" stroke-width="0.85" stroke-linecap="butt"/>
<line x1="415.40" y1="379.40" x2="431.30" y2="379.40" stroke="#5a5a5a" stroke-width="0.85" stroke-linecap="butt"/>
<line x1="415.40" y1="384.00" x2="431.30" y2="384.00" stroke="#5a5a5a" stroke-width="0.85" stroke-linecap="butt"/>
<line x1="415.40" y1="388.60" x2="431.30" y2="388.60" stroke="#5a5a5a" stroke-width="0.85" stroke-linecap="butt"/>
<line x1="415.40" y1="393.20" x2="431.30" y2="393.20" stroke="#5a5a5a" stroke-width="0.85" stroke-linecap="butt"/>
<line x1="415.40" y1="397.80" x2="431.30" y2="397.80" stroke="#5a5a5a" stroke-width="0.85" stroke-linecap="butt"/>
<line x1="415.40" y1="402.40" x2="431.30" y2="402.40" stroke="#5a5a5a" stroke-width="0.85" stroke-linecap="butt"/>
<line x1="415.40" y1="407.00" x2="431.30" y2="407.00" stroke="#5a5a5a" stroke-width="0.85" stroke-linecap="butt"/>
<line x1="415.40" y1="411.60" x2="431.30" y2="411.60" stroke="#5a5a5a" stroke-width="0.85" stroke-linecap="butt"/>
<line x1="415.40" y1="416.20" x2="431.30" y2="416.20" stroke="#5a5a5a" stroke-width="0.85" stroke-linecap="butt"/>
<line x1="415.40" y1="420.80" x2="431.30" y2="420.80" stroke="#5a5a5a" stroke-width="0.85" stroke-linecap="butt"/>
<line x1="415.40" y1="425.40" x2="431.30" y2="425.40" stroke="#5a5a5a" stroke-width="0.85" stroke-linecap="butt"/>
<line x1="415.40" y1="430.00" x2="431.30" y2="430.00" stroke="#5a5a5a" stroke-width="0.85" stroke-linecap="butt"/>
<line x1="415.40" y1="434.60" x2="431.30" y2="434.60" stroke="#5a5a5a" stroke-width="0.85" stroke-linecap="butt"/>
<line x1="415.40" y1="439.20" x2="431.30" y2="439.20" stroke="#5a5a5a" stroke-width="0.85" stroke-linecap="butt"/>
<line x1="415.40" y1="443.80" x2="431.30" y2="443.80" stroke="#5a5a5a" stroke-width="0.85" stroke-linecap="butt"/>
<line x1="415.40" y1="448.40" x2="431.30" y2="448.40" stroke="#5a5a5a" stroke-width="0.85" stroke-linecap="butt"/>
<line x1="415.40" y1="453.00" x2="431.30" y2="453.00" stroke="#5a5a5a" stroke-width="0.85" stroke-linecap="butt"/>
<line x1="415.40" y1="457.60" x2="431.30" y2="457.60" stroke="#5a5a5a" stroke-width="0.85" stroke-linecap="butt"/>
<line x1="415.40" y1="462.20" x2="431.30" y2="462.20" stroke="#5a5a5a" stroke-width="0.85" stroke-linecap="butt"/>
<rect x="415.80" y="370.70" width="15.10" height="96.90" fill="none" stroke="#444444" stroke-width="0.9"/>
<rect x="440.40" y="456.80" width="15.10" height="10.80" fill="#231f20" stroke="#231f20" stroke-width="1"/>
<line x1="309.50" y1="311.65" x2="309.50" y2="468.35" stroke="#231f20" stroke-width="1.5" stroke-linecap="butt"/>
<line x1="309.50" y1="467.60" x2="464.80" y2="467.60" stroke="#231f20" stroke-width="1.5" stroke-linecap="butt"/>
<line x1="303.50" y1="467.60" x2="309.50" y2="467.60" stroke="#231f20" stroke-width="1.5" stroke-linecap="butt"/>
<text transform="translate(301.80 472.20) scale(1.14 1)" font-size="11" font-weight="bold" text-anchor="end" fill="#231f20">0</text>
<line x1="303.50" y1="428.80" x2="309.50" y2="428.80" stroke="#231f20" stroke-width="1.5" stroke-linecap="butt"/>
<text transform="translate(301.80 433.40) scale(1.14 1)" font-size="11" font-weight="bold" text-anchor="end" fill="#231f20">10</text>
<line x1="303.50" y1="390.00" x2="309.50" y2="390.00" stroke="#231f20" stroke-width="1.5" stroke-linecap="butt"/>
<text transform="translate(301.80 394.60) scale(1.14 1)" font-size="11" font-weight="bold" text-anchor="end" fill="#231f20">20</text>
<line x1="303.50" y1="351.20" x2="309.50" y2="351.20" stroke="#231f20" stroke-width="1.5" stroke-linecap="butt"/>
<text transform="translate(301.80 355.80) scale(1.14 1)" font-size="11" font-weight="bold" text-anchor="end" fill="#231f20">30</text>
<line x1="303.50" y1="312.40" x2="309.50" y2="312.40" stroke="#231f20" stroke-width="1.5" stroke-linecap="butt"/>
<text transform="translate(301.80 317.00) scale(1.14 1)" font-size="11" font-weight="bold" text-anchor="end" fill="#231f20">40</text>
<line x1="399.20" y1="311.30" x2="399.20" y2="474.10" stroke="#231f20" stroke-width="1.5" stroke-linecap="butt"/>
<line x1="325.50" y1="467.60" x2="325.50" y2="474.10" stroke="#231f20" stroke-width="1.5" stroke-linecap="butt"/>
<line x1="350.10" y1="467.60" x2="350.10" y2="474.10" stroke="#231f20" stroke-width="1.5" stroke-linecap="butt"/>
<line x1="374.50" y1="467.60" x2="374.50" y2="474.10" stroke="#231f20" stroke-width="1.5" stroke-linecap="butt"/>
<line x1="423.30" y1="467.60" x2="423.30" y2="474.10" stroke="#231f20" stroke-width="1.5" stroke-linecap="butt"/>
<line x1="447.70" y1="467.60" x2="447.70" y2="474.10" stroke="#231f20" stroke-width="1.5" stroke-linecap="butt"/>
<line x1="325.50" y1="444.00" x2="325.50" y2="454.10" stroke="#231f20" stroke-width="1.2" stroke-linecap="butt"/>
<line x1="322.30" y1="444.00" x2="328.70" y2="444.00" stroke="#231f20" stroke-width="1.2" stroke-linecap="butt"/>
<line x1="423.30" y1="352.70" x2="423.30" y2="370.30" stroke="#231f20" stroke-width="1.2" stroke-linecap="butt"/>
<line x1="420.10" y1="352.70" x2="426.50" y2="352.70" stroke="#231f20" stroke-width="1.2" stroke-linecap="butt"/>
<line x1="350.10" y1="454.50" x2="350.10" y2="457.00" stroke="#231f20" stroke-width="1.2" stroke-linecap="butt"/>
<line x1="346.90" y1="454.50" x2="353.30" y2="454.50" stroke="#231f20" stroke-width="1.2" stroke-linecap="butt"/>
<circle cx="325.50" cy="445.50" r="2.2" fill="#231f20"/>
<circle cx="325.50" cy="450.70" r="2.2" fill="#231f20"/>
<circle cx="325.00" cy="465.00" r="2.2" fill="#231f20"/>
<circle cx="346.30" cy="459.70" r="2.2" fill="#231f20"/>
<circle cx="349.70" cy="454.10" r="2.2" fill="#231f20"/>
<circle cx="353.90" cy="457.60" r="2.2" fill="#231f20"/>
<circle cx="371.40" cy="432.60" r="2.2" fill="#231f20"/>
<circle cx="371.40" cy="438.80" r="2.2" fill="#231f20"/>
<circle cx="377.70" cy="435.70" r="2.2" fill="#231f20"/>
<circle cx="423.30" cy="351.60" r="2.2" fill="#231f20"/>
<circle cx="423.30" cy="373.80" r="2.2" fill="#231f20"/>
<circle cx="423.30" cy="385.60" r="2.2" fill="#231f20"/>
<circle cx="441.20" cy="456.30" r="2.2" fill="#231f20"/>
<circle cx="447.60" cy="453.80" r="2.2" fill="#231f20"/>
<circle cx="454.10" cy="455.30" r="2.2" fill="#231f20"/>
<polyline points="325.50,350.10 325.50,333.00 374.50,333.00 374.50,386.00" fill="none" stroke="#231f20" stroke-width="1.5" stroke-linejoin="miter"/>
<path d="M350.45,320.60L350.45,327.40M347.51,322.30L353.39,325.70M353.39,322.30L347.51,325.70" stroke="#231f20" stroke-width="1.35" fill="none"/>
<polyline points="325.50,434.70 325.50,373.50 350.10,373.50 350.10,386.00" fill="none" stroke="#231f20" stroke-width="1.5" stroke-linejoin="miter"/>
<text x="337.85" y="366.90" font-size="14" font-weight="normal" text-anchor="middle" fill="#333333">ns</text>
<polyline points="350.10,444.70 350.10,410.60 374.50,410.60 374.50,423.20" fill="none" stroke="#231f20" stroke-width="1.5" stroke-linejoin="miter"/>
<path d="M358.15,397.85L358.15,404.65M355.21,399.55L361.09,402.95M361.09,399.55L355.21,402.95M367.55,397.85L367.55,404.65M364.61,399.55L370.49,402.95M370.49,399.55L364.61,402.95" stroke="#231f20" stroke-width="1.35" fill="none"/>
<text x="386.70" y="292.60" font-size="15.2" font-weight="bold" text-anchor="middle" fill="#231f20">48 hours</text>
<text x="329.00" y="483.60" font-size="11" font-weight="bold" text-anchor="end" fill="#231f20" transform="rotate(-45 329.00 483.60)">LNP-1</text>
<text x="353.60" y="483.60" font-size="11" font-weight="bold" text-anchor="end" fill="#231f20" transform="rotate(-45 353.60 483.60)">LNP-ALC315</text>
<text x="378.00" y="483.60" font-size="11" font-weight="bold" text-anchor="end" fill="#231f20" transform="rotate(-45 378.00 483.60)">LNP-SM102</text>
<text x="426.80" y="483.60" font-size="11" font-weight="bold" text-anchor="end" fill="#231f20" transform="rotate(-45 426.80 483.60)">R848</text>
<text x="451.20" y="483.60" font-size="11" font-weight="bold" text-anchor="end" fill="#231f20" transform="rotate(-45 451.20 483.60)">MPLA</text>
<defs><clipPath id="c3"><rect x="538.60" y="454.00" width="16.00" height="15.80"/></clipPath></defs>
<rect x="538.60" y="454.00" width="16.00" height="15.80" fill="#a3a3a3"/>
<g clip-path="url(#c3)">
<line x1="533.60" y1="421.50" x2="559.60" y2="447.50" stroke="#231f20" stroke-width="2.5"/>
<line x1="533.60" y1="431.00" x2="559.60" y2="457.00" stroke="#231f20" stroke-width="2.5"/>
<line x1="533.60" y1="440.50" x2="559.60" y2="466.50" stroke="#231f20" stroke-width="2.5"/>
<line x1="533.60" y1="450.00" x2="559.60" y2="476.00" stroke="#231f20" stroke-width="2.5"/>
<line x1="533.60" y1="459.50" x2="559.60" y2="485.50" stroke="#231f20" stroke-width="2.5"/>
<line x1="533.60" y1="469.00" x2="559.60" y2="495.00" stroke="#231f20" stroke-width="2.5"/>
</g>
<rect x="539.00" y="454.40" width="15.20" height="15.40" fill="none" stroke="#231f20" stroke-width="0.9"/>
<rect x="563.00" y="458.30" width="15.20" height="11.50" fill="#999999" stroke="#555555" stroke-width="1"/>
<rect x="587.80" y="432.80" width="14.70" height="37.00" fill="#d6d6d6" stroke="#444444" stroke-width="1"/>
<rect x="635.40" y="338.60" width="16.10" height="131.20" fill="#dadada"/>
<line x1="635.40" y1="343.60" x2="651.50" y2="343.60" stroke="#5a5a5a" stroke-width="0.85" stroke-linecap="butt"/>
<line x1="635.40" y1="348.15" x2="651.50" y2="348.15" stroke="#5a5a5a" stroke-width="0.85" stroke-linecap="butt"/>
<line x1="635.40" y1="352.70" x2="651.50" y2="352.70" stroke="#5a5a5a" stroke-width="0.85" stroke-linecap="butt"/>
<line x1="635.40" y1="357.25" x2="651.50" y2="357.25" stroke="#5a5a5a" stroke-width="0.85" stroke-linecap="butt"/>
<line x1="635.40" y1="361.80" x2="651.50" y2="361.80" stroke="#5a5a5a" stroke-width="0.85" stroke-linecap="butt"/>
<line x1="635.40" y1="366.35" x2="651.50" y2="366.35" stroke="#5a5a5a" stroke-width="0.85" stroke-linecap="butt"/>
<line x1="635.40" y1="370.90" x2="651.50" y2="370.90" stroke="#5a5a5a" stroke-width="0.85" stroke-linecap="butt"/>
<line x1="635.40" y1="375.45" x2="651.50" y2="375.45" stroke="#5a5a5a" stroke-width="0.85" stroke-linecap="butt"/>
<line x1="635.40" y1="380.00" x2="651.50" y2="380.00" stroke="#5a5a5a" stroke-width="0.85" stroke-linecap="butt"/>
<line x1="635.40" y1="384.55" x2="651.50" y2="384.55" stroke="#5a5a5a" stroke-width="0.85" stroke-linecap="butt"/>
<line x1="635.40" y1="389.10" x2="651.50" y2="389.10" stroke="#5a5a5a" stroke-width="0.85" stroke-linecap="butt"/>
<line x1="635.40" y1="393.65" x2="651.50" y2="393.65" stroke="#5a5a5a" stroke-width="0.85" stroke-linecap="butt"/>
<line x1="635.40" y1="398.20" x2="651.50" y2="398.20" stroke="#5a5a5a" stroke-width="0.85" stroke-linecap="butt"/>
<line x1="635.40" y1="402.75" x2="651.50" y2="402.75" stroke="#5a5a5a" stroke-width="0.85" stroke-linecap="butt"/>
<line x1="635.40" y1="407.30" x2="651.50" y2="407.30" stroke="#5a5a5a" stroke-width="0.85" stroke-linecap="butt"/>
<line x1="635.40" y1="411.85" x2="651.50" y2="411.85" stroke="#5a5a5a" stroke-width="0.85" stroke-linecap="butt"/>
<line x1="635.40" y1="416.40" x2="651.50" y2="416.40" stroke="#5a5a5a" stroke-width="0.85" stroke-linecap="butt"/>
<line x1="635.40" y1="420.95" x2="651.50" y2="420.95" stroke="#5a5a5a" stroke-width="0.85" stroke-linecap="butt"/>
<line x1="635.40" y1="425.50" x2="651.50" y2="425.50" stroke="#5a5a5a" stroke-width="0.85" stroke-linecap="butt"/>
<line x1="635.40" y1="430.05" x2="651.50" y2="430.05" stroke="#5a5a5a" stroke-width="0.85" stroke-linecap="butt"/>
<line x1="635.40" y1="434.60" x2="651.50" y2="434.60" stroke="#5a5a5a" stroke-width="0.85" stroke-linecap="butt"/>
<line x1="635.40" y1="439.15" x2="651.50" y2="439.15" stroke="#5a5a5a" stroke-width="0.85" stroke-linecap="butt"/>
<line x1="635.40" y1="443.70" x2="651.50" y2="443.70" stroke="#5a5a5a" stroke-width="0.85" stroke-linecap="butt"/>
<line x1="635.40" y1="448.25" x2="651.50" y2="448.25" stroke="#5a5a5a" stroke-width="0.85" stroke-linecap="butt"/>
<line x1="635.40" y1="452.80" x2="651.50" y2="452.80" stroke="#5a5a5a" stroke-width="0.85" stroke-linecap="butt"/>
<line x1="635.40" y1="457.35" x2="651.50" y2="457.35" stroke="#5a5a5a" stroke-width="0.85" stroke-linecap="butt"/>
<line x1="635.40" y1="461.90" x2="651.50" y2="461.90" stroke="#5a5a5a" stroke-width="0.85" stroke-linecap="butt"/>
<line x1="635.40" y1="466.45" x2="651.50" y2="466.45" stroke="#5a5a5a" stroke-width="0.85" stroke-linecap="butt"/>
<rect x="635.80" y="339.00" width="15.30" height="130.80" fill="none" stroke="#444444" stroke-width="0.9"/>
<rect x="660.20" y="455.00" width="15.50" height="14.80" fill="#231f20" stroke="#231f20" stroke-width="1"/>
<line x1="530.20" y1="315.15" x2="530.20" y2="470.55" stroke="#231f20" stroke-width="1.5" stroke-linecap="butt"/>
<line x1="530.20" y1="469.80" x2="686.00" y2="469.80" stroke="#231f20" stroke-width="1.5" stroke-linecap="butt"/>
<line x1="524.20" y1="469.80" x2="530.20" y2="469.80" stroke="#231f20" stroke-width="1.5" stroke-linecap="butt"/>
<text transform="translate(522.50 474.10) scale(1.14 1)" font-size="11" font-weight="bold" text-anchor="end" fill="#231f20">0</text>
<line x1="524.20" y1="431.30" x2="530.20" y2="431.30" stroke="#231f20" stroke-width="1.5" stroke-linecap="butt"/>
<text transform="translate(522.50 435.60) scale(1.14 1)" font-size="11" font-weight="bold" text-anchor="end" fill="#231f20">5</text>
<line x1="524.20" y1="392.80" x2="530.20" y2="392.80" stroke="#231f20" stroke-width="1.5" stroke-linecap="butt"/>
<text transform="translate(522.50 397.10) scale(1.14 1)" font-size="11" font-weight="bold" text-anchor="end" fill="#231f20">10</text>
<line x1="524.20" y1="354.30" x2="530.20" y2="354.30" stroke="#231f20" stroke-width="1.5" stroke-linecap="butt"/>
<text transform="translate(522.50 358.60) scale(1.14 1)" font-size="11" font-weight="bold" text-anchor="end" fill="#231f20">15</text>
<line x1="524.20" y1="315.90" x2="530.20" y2="315.90" stroke="#231f20" stroke-width="1.5" stroke-linecap="butt"/>
<text transform="translate(522.50 320.20) scale(1.14 1)" font-size="11" font-weight="bold" text-anchor="end" fill="#231f20">20</text>
<line x1="618.90" y1="314.00" x2="618.90" y2="476.30" stroke="#231f20" stroke-width="1.5" stroke-linecap="butt"/>
<line x1="546.20" y1="469.80" x2="546.20" y2="476.30" stroke="#231f20" stroke-width="1.5" stroke-linecap="butt"/>
<line x1="570.50" y1="469.80" x2="570.50" y2="476.30" stroke="#231f20" stroke-width="1.5" stroke-linecap="butt"/>
<line x1="594.90" y1="469.80" x2="594.90" y2="476.30" stroke="#231f20" stroke-width="1.5" stroke-linecap="butt"/>
<line x1="643.20" y1="469.80" x2="643.20" y2="476.30" stroke="#231f20" stroke-width="1.5" stroke-linecap="butt"/>
<line x1="667.80" y1="469.80" x2="667.80" y2="476.30" stroke="#231f20" stroke-width="1.5" stroke-linecap="butt"/>
<circle cx="539.70" cy="454.70" r="2.2" fill="#231f20"/>
<circle cx="546.20" cy="452.30" r="2.2" fill="#231f20"/>
<circle cx="552.90" cy="452.70" r="2.2" fill="#231f20"/>
<circle cx="563.90" cy="458.00" r="2.2" fill="#231f20"/>
<circle cx="570.50" cy="454.50" r="2.2" fill="#231f20"/>
<circle cx="577.20" cy="457.80" r="2.2" fill="#231f20"/>
<circle cx="591.60" cy="429.00" r="2.2" fill="#231f20"/>
<circle cx="597.30" cy="430.80" r="2.2" fill="#231f20"/>
<circle cx="595.10" cy="434.40" r="2.2" fill="#231f20"/>
<circle cx="640.40" cy="340.40" r="2.2" fill="#231f20"/>
<circle cx="643.60" cy="335.40" r="2.2" fill="#231f20"/>
<circle cx="646.10" cy="338.60" r="2.2" fill="#231f20"/>
<circle cx="661.00" cy="454.80" r="2.2" fill="#231f20"/>
<circle cx="667.70" cy="452.50" r="2.2" fill="#231f20"/>
<circle cx="674.50" cy="454.20" r="2.2" fill="#231f20"/>
<polyline points="546.20,338.00 546.20,326.20 595.10,326.20 595.10,381.80" fill="none" stroke="#231f20" stroke-width="1.5" stroke-linejoin="miter"/>
<path d="M557.45,313.85L557.45,320.65M554.51,315.55L560.39,318.95M560.39,315.55L554.51,318.95M566.85,313.85L566.85,320.65M563.91,315.55L569.79,318.95M569.79,315.55L563.91,318.95M576.25,313.85L576.25,320.65M573.31,315.55L579.19,318.95M579.19,315.55L573.31,318.95M585.65,313.85L585.65,320.65M582.71,315.55L588.59,318.95M588.59,315.55L582.71,318.95" stroke="#231f20" stroke-width="1.35" fill="none"/>
<polyline points="546.20,442.70 546.20,362.10 570.50,362.10 570.50,381.80" fill="none" stroke="#231f20" stroke-width="1.5" stroke-linejoin="miter"/>
<text x="558.40" y="355.60" font-size="14" font-weight="normal" text-anchor="middle" fill="#333333">ns</text>
<polyline points="570.50,445.90 570.50,405.50 595.10,405.50 595.10,419.40" fill="none" stroke="#231f20" stroke-width="1.5" stroke-linejoin="miter"/>
<path d="M569.60,392.35L569.60,399.15M566.66,394.05L572.54,397.45M572.54,394.05L566.66,397.45M579.00,392.35L579.00,399.15M576.06,394.05L581.94,397.45M581.94,394.05L576.06,397.45M588.40,392.35L588.40,399.15M585.46,394.05L591.34,397.45M591.34,394.05L585.46,397.45M597.80,392.35L597.80,399.15M594.86,394.05L600.74,397.45M600.74,394.05L594.86,397.45" stroke="#231f20" stroke-width="1.35" fill="none"/>
<text x="607.10" y="293.80" font-size="15.2" font-weight="bold" text-anchor="middle" fill="#231f20">72 hours</text>
<text x="549.70" y="485.80" font-size="11" font-weight="bold" text-anchor="end" fill="#231f20" transform="rotate(-45 549.70 485.80)">LNP-1</text>
<text x="574.00" y="485.80" font-size="11" font-weight="bold" text-anchor="end" fill="#231f20" transform="rotate(-45 574.00 485.80)">LNP-ALC315</text>
<text x="598.40" y="485.80" font-size="11" font-weight="bold" text-anchor="end" fill="#231f20" transform="rotate(-45 598.40 485.80)">LNP-SM102</text>
<text x="646.70" y="485.80" font-size="11" font-weight="bold" text-anchor="end" fill="#231f20" transform="rotate(-45 646.70 485.80)">R848</text>
<text x="671.30" y="485.80" font-size="11" font-weight="bold" text-anchor="end" fill="#231f20" transform="rotate(-45 671.30 485.80)">MPLA</text>
<text x="62.50" y="386.70" font-size="12.3" font-weight="bold" text-anchor="middle" fill="#231f20" transform="rotate(-90 62.50 386.70)">Ratio to</text>
<text x="76.80" y="385.60" font-size="12.3" font-weight="bold" text-anchor="middle" fill="#231f20" transform="rotate(-90 76.80 385.60)" xml:space="preserve">Unstimulated  Control</text>
<rect x="134.80" y="681.50" width="17.70" height="61.10" fill="#ffffff" stroke="#8a8a8a" stroke-width="1"/>
<rect x="161.60" y="681.30" width="18.70" height="61.30" fill="#ffffff"/>
<line x1="162.00" y1="681.30" x2="162.00" y2="742.60" stroke="#b0b0b0" stroke-width="1.0" stroke-linecap="butt"/>
<line x1="166.00" y1="681.30" x2="166.00" y2="742.60" stroke="#6a6a6a" stroke-width="1.0" stroke-linecap="butt"/>
<line x1="170.00" y1="681.30" x2="170.00" y2="742.60" stroke="#6a6a6a" stroke-width="1.0" stroke-linecap="butt"/>
<line x1="174.00" y1="681.30" x2="174.00" y2="742.60" stroke="#6a6a6a" stroke-width="1.0" stroke-linecap="butt"/>
<line x1="178.00" y1="681.30" x2="178.00" y2="742.60" stroke="#6a6a6a" stroke-width="1.0" stroke-linecap="butt"/>
<line x1="179.90" y1="681.30" x2="179.90" y2="742.60" stroke="#8a8a8a" stroke-width="1.0" stroke-linecap="butt"/>
<line x1="161.60" y1="681.80" x2="180.30" y2="681.80" stroke="#8a8a8a" stroke-width="1.0" stroke-linecap="butt"/>
<rect x="189.70" y="671.50" width="17.50" height="71.10" fill="#8c8c8c" stroke="#666666" stroke-width="1"/>
<line x1="125.40" y1="604.55" x2="125.40" y2="743.35" stroke="#231f20" stroke-width="1.5" stroke-linecap="butt"/>
<line x1="119.60" y1="742.60" x2="217.10" y2="742.60" stroke="#231f20" stroke-width="1.5" stroke-linecap="butt"/>
<line x1="119.40" y1="605.30" x2="125.40" y2="605.30" stroke="#231f20" stroke-width="1.5" stroke-linecap="butt"/>
<text x="118.40" y="609.70" font-size="10.5" font-weight="bold" text-anchor="end" fill="#231f20">1×10<tspan font-size="6.8" dy="-4.09">5</tspan></text>
<line x1="119.40" y1="674.10" x2="125.40" y2="674.10" stroke="#231f20" stroke-width="1.5" stroke-linecap="butt"/>
<text x="118.40" y="678.50" font-size="10.5" font-weight="bold" text-anchor="end" fill="#231f20">1×10<tspan font-size="6.8" dy="-4.09">4</tspan></text>
<line x1="119.40" y1="742.60" x2="125.40" y2="742.60" stroke="#231f20" stroke-width="1.5" stroke-linecap="butt"/>
<text x="118.40" y="747.00" font-size="10.5" font-weight="bold" text-anchor="end" fill="#231f20">1×10<tspan font-size="6.8" dy="-4.09">3</tspan></text>
<line x1="143.60" y1="742.60" x2="143.60" y2="749.10" stroke="#231f20" stroke-width="1.5" stroke-linecap="butt"/>
<line x1="171.00" y1="742.60" x2="171.00" y2="749.10" stroke="#231f20" stroke-width="1.5" stroke-linecap="butt"/>
<line x1="198.40" y1="742.60" x2="198.40" y2="749.10" stroke="#231f20" stroke-width="1.5" stroke-linecap="butt"/>
<circle cx="140.90" cy="679.20" r="2.0" fill="#231f20"/>
<circle cx="140.90" cy="683.60" r="2.0" fill="#231f20"/>
<circle cx="146.40" cy="681.30" r="2.0" fill="#231f20"/>
<circle cx="167.60" cy="679.70" r="2.0" fill="#231f20"/>
<circle cx="167.60" cy="683.00" r="2.0" fill="#231f20"/>
<circle cx="173.20" cy="681.30" r="2.0" fill="#231f20"/>
<circle cx="193.00" cy="670.80" r="2.0" fill="#231f20"/>
<circle cx="198.40" cy="670.30" r="2.0" fill="#231f20"/>
<circle cx="204.00" cy="670.80" r="2.0" fill="#231f20"/>
<polyline points="143.20,632.40 143.20,595.70 199.00,595.70 199.00,603.90" fill="none" stroke="#231f20" stroke-width="1.5" stroke-linejoin="miter"/>
<path d="M159.50,584.50L159.50,590.80M156.77,586.07L162.23,589.23M162.23,586.07L156.77,589.23M168.00,584.50L168.00,590.80M165.27,586.07L170.73,589.23M170.73,586.07L165.27,589.23M176.50,584.50L176.50,590.80M173.77,586.07L179.23,589.23M179.23,586.07L173.77,589.23M185.00,584.50L185.00,590.80M182.27,586.07L187.73,589.23M187.73,586.07L182.27,589.23" stroke="#231f20" stroke-width="1.3" fill="none"/>
<polyline points="170.70,632.40 170.70,625.60 199.00,625.60 199.00,661.60" fill="none" stroke="#231f20" stroke-width="1.5" stroke-linejoin="miter"/>
<path d="M172.80,613.50L172.80,619.80M170.07,615.07L175.53,618.23M175.53,615.07L170.07,618.23M181.30,613.50L181.30,619.80M178.57,615.07L184.03,618.23M184.03,615.07L178.57,618.23M189.80,613.50L189.80,619.80M187.07,615.07L192.53,618.23M192.53,615.07L187.07,618.23M198.30,613.50L198.30,619.80M195.57,615.07L201.03,618.23M201.03,615.07L195.57,618.23" stroke="#231f20" stroke-width="1.3" fill="none"/>
<polyline points="143.20,670.50 143.20,654.10 170.70,654.10 170.70,671.70" fill="none" stroke="#231f20" stroke-width="1.5" stroke-linejoin="miter"/>
<text x="157.30" y="648.30" font-size="12.5" font-weight="normal" text-anchor="middle" fill="#333333">ns</text>
<text x="171.00" y="566.50" font-size="13.4" font-weight="bold" text-anchor="middle" fill="#231f20">24 hours</text>
<text x="148.30" y="759.10" font-size="10.3" font-weight="bold" text-anchor="end" fill="#231f20" transform="rotate(-45 148.30 759.10)">Unstimulated</text>
<text x="175.70" y="759.10" font-size="10.3" font-weight="bold" text-anchor="end" fill="#231f20" transform="rotate(-45 175.70 759.10)">LNP-no ionizable lipid</text>
<text x="203.10" y="759.10" font-size="10.3" font-weight="bold" text-anchor="end" fill="#231f20" transform="rotate(-45 203.10 759.10)">LNP-ALC315</text>
<rect x="353.80" y="666.60" width="17.60" height="78.00" fill="#ffffff" stroke="#8a8a8a" stroke-width="1"/>
<rect x="380.10" y="666.50" width="18.40" height="78.10" fill="#ffffff"/>
<line x1="380.50" y1="666.50" x2="380.50" y2="744.60" stroke="#b0b0b0" stroke-width="1.0" stroke-linecap="butt"/>
<line x1="384.50" y1="666.50" x2="384.50" y2="744.60" stroke="#6a6a6a" stroke-width="1.0" stroke-linecap="butt"/>
<line x1="388.50" y1="666.50" x2="388.50" y2="744.60" stroke="#6a6a6a" stroke-width="1.0" stroke-linecap="butt"/>
<line x1="392.50" y1="666.50" x2="392.50" y2="744.60" stroke="#6a6a6a" stroke-width="1.0" stroke-linecap="butt"/>
<line x1="396.50" y1="666.50" x2="396.50" y2="744.60" stroke="#6a6a6a" stroke-width="1.0" stroke-linecap="butt"/>
<line x1="398.10" y1="666.50" x2="398.10" y2="744.60" stroke="#8a8a8a" stroke-width="1.0" stroke-linecap="butt"/>
<line x1="380.10" y1="667.00" x2="398.50" y2="667.00" stroke="#8a8a8a" stroke-width="1.0" stroke-linecap="butt"/>
<rect x="407.90" y="653.70" width="17.40" height="90.90" fill="#8c8c8c" stroke="#666666" stroke-width="1"/>
<line x1="344.10" y1="609.45" x2="344.10" y2="745.35" stroke="#231f20" stroke-width="1.5" stroke-linecap="butt"/>
<line x1="339.30" y1="744.60" x2="434.70" y2="744.60" stroke="#231f20" stroke-width="1.5" stroke-linecap="butt"/>
<line x1="338.10" y1="610.20" x2="344.10" y2="610.20" stroke="#231f20" stroke-width="1.5" stroke-linecap="butt"/>
<text x="337.10" y="614.60" font-size="10.5" font-weight="bold" text-anchor="end" fill="#231f20">1×10<tspan font-size="6.8" dy="-4.09">5</tspan></text>
<line x1="338.10" y1="677.20" x2="344.10" y2="677.20" stroke="#231f20" stroke-width="1.5" stroke-linecap="butt"/>
<text x="337.10" y="681.60" font-size="10.5" font-weight="bold" text-anchor="end" fill="#231f20">1×10<tspan font-size="6.8" dy="-4.09">4</tspan></text>
<line x1="338.10" y1="744.60" x2="344.10" y2="744.60" stroke="#231f20" stroke-width="1.5" stroke-linecap="butt"/>
<text x="337.10" y="749.00" font-size="10.5" font-weight="bold" text-anchor="end" fill="#231f20">1×10<tspan font-size="6.8" dy="-4.09">3</tspan></text>
<line x1="362.20" y1="744.60" x2="362.20" y2="751.10" stroke="#231f20" stroke-width="1.5" stroke-linecap="butt"/>
<line x1="389.30" y1="744.60" x2="389.30" y2="751.10" stroke="#231f20" stroke-width="1.5" stroke-linecap="butt"/>
<line x1="416.40" y1="744.60" x2="416.40" y2="751.10" stroke="#231f20" stroke-width="1.5" stroke-linecap="butt"/>
<circle cx="357.50" cy="664.30" r="2.0" fill="#231f20"/>
<circle cx="357.50" cy="668.50" r="2.0" fill="#231f20"/>
<circle cx="364.00" cy="666.30" r="2.0" fill="#231f20"/>
<circle cx="383.80" cy="667.00" r="2.0" fill="#231f20"/>
<circle cx="389.50" cy="664.50" r="2.0" fill="#231f20"/>
<circle cx="395.00" cy="667.00" r="2.0" fill="#231f20"/>
<circle cx="410.70" cy="653.50" r="2.0" fill="#231f20"/>
<circle cx="416.50" cy="652.50" r="2.0" fill="#231f20"/>
<circle cx="422.00" cy="653.50" r="2.0" fill="#231f20"/>
<polyline points="362.50,615.00 362.50,578.50 416.60,578.50 416.60,586.40" fill="none" stroke="#231f20" stroke-width="1.5" stroke-linejoin="miter"/>
<path d="M377.80,567.50L377.80,573.80M375.07,569.07L380.53,572.23M380.53,569.07L375.07,572.23M386.30,567.50L386.30,573.80M383.57,569.07L389.03,572.23M389.03,569.07L383.57,572.23M394.80,567.50L394.80,573.80M392.07,569.07L397.53,572.23M397.53,569.07L392.07,572.23M403.30,567.50L403.30,573.80M400.57,569.07L406.03,572.23M406.03,569.07L400.57,572.23" stroke="#231f20" stroke-width="1.3" fill="none"/>
<polyline points="389.30,615.00 389.30,607.00 416.60,607.00 416.60,643.70" fill="none" stroke="#231f20" stroke-width="1.5" stroke-linejoin="miter"/>
<path d="M391.30,596.15L391.30,602.45M388.57,597.72L394.03,600.88M394.03,597.72L388.57,600.88M399.80,596.15L399.80,602.45M397.07,597.72L402.53,600.88M402.53,597.72L397.07,600.88M408.30,596.15L408.30,602.45M405.57,597.72L411.03,600.88M411.03,597.72L405.57,600.88M416.80,596.15L416.80,602.45M414.07,597.72L419.53,600.88M419.53,597.72L414.07,600.88" stroke="#231f20" stroke-width="1.3" fill="none"/>
<polyline points="362.50,656.70 362.50,635.60 389.30,635.60 389.30,655.40" fill="none" stroke="#231f20" stroke-width="1.5" stroke-linejoin="miter"/>
<text x="375.75" y="629.80" font-size="12.5" font-weight="normal" text-anchor="middle" fill="#333333">ns</text>
<text x="389.00" y="549.50" font-size="13.2" font-weight="bold" text-anchor="middle" fill="#231f20">48 hours</text>
<text x="366.90" y="761.10" font-size="10.3" font-weight="bold" text-anchor="end" fill="#231f20" transform="rotate(-45 366.90 761.10)">Unstimulated</text>
<text x="394.00" y="761.10" font-size="10.3" font-weight="bold" text-anchor="end" fill="#231f20" transform="rotate(-45 394.00 761.10)">LNP-no ionizable lipid</text>
<text x="421.10" y="761.10" font-size="10.3" font-weight="bold" text-anchor="end" fill="#231f20" transform="rotate(-45 421.10 761.10)">LNP-ALC315</text>
<rect x="574.00" y="652.90" width="17.00" height="91.70" fill="#ffffff" stroke="#8a8a8a" stroke-width="1"/>
<rect x="601.20" y="651.20" width="18.30" height="93.40" fill="#ffffff"/>
<line x1="601.60" y1="651.20" x2="601.60" y2="744.60" stroke="#b0b0b0" stroke-width="1.0" stroke-linecap="butt"/>
<line x1="605.60" y1="651.20" x2="605.60" y2="744.60" stroke="#6a6a6a" stroke-width="1.0" stroke-linecap="butt"/>
<line x1="609.60" y1="651.20" x2="609.60" y2="744.60" stroke="#6a6a6a" stroke-width="1.0" stroke-linecap="butt"/>
<line x1="613.60" y1="651.20" x2="613.60" y2="744.60" stroke="#6a6a6a" stroke-width="1.0" stroke-linecap="butt"/>
<line x1="617.60" y1="651.20" x2="617.60" y2="744.60" stroke="#6a6a6a" stroke-width="1.0" stroke-linecap="butt"/>
<line x1="619.10" y1="651.20" x2="619.10" y2="744.60" stroke="#8a8a8a" stroke-width="1.0" stroke-linecap="butt"/>
<line x1="601.20" y1="651.70" x2="619.50" y2="651.70" stroke="#8a8a8a" stroke-width="1.0" stroke-linecap="butt"/>
<rect x="629.40" y="647.30" width="17.70" height="97.30" fill="#8c8c8c" stroke="#666666" stroke-width="1"/>
<line x1="563.80" y1="605.15" x2="563.80" y2="745.35" stroke="#231f20" stroke-width="1.5" stroke-linecap="butt"/>
<line x1="558.00" y1="744.60" x2="657.20" y2="744.60" stroke="#231f20" stroke-width="1.5" stroke-linecap="butt"/>
<line x1="557.80" y1="605.90" x2="563.80" y2="605.90" stroke="#231f20" stroke-width="1.5" stroke-linecap="butt"/>
<text x="556.80" y="610.30" font-size="10.5" font-weight="bold" text-anchor="end" fill="#231f20">1×10<tspan font-size="6.8" dy="-4.09">5</tspan></text>
<line x1="557.80" y1="675.20" x2="563.80" y2="675.20" stroke="#231f20" stroke-width="1.5" stroke-linecap="butt"/>
<text x="556.80" y="679.60" font-size="10.5" font-weight="bold" text-anchor="end" fill="#231f20">1×10<tspan font-size="6.8" dy="-4.09">4</tspan></text>
<line x1="557.80" y1="744.60" x2="563.80" y2="744.60" stroke="#231f20" stroke-width="1.5" stroke-linecap="butt"/>
<text x="556.80" y="749.00" font-size="10.5" font-weight="bold" text-anchor="end" fill="#231f20">1×10<tspan font-size="6.8" dy="-4.09">3</tspan></text>
<line x1="582.40" y1="744.60" x2="582.40" y2="751.10" stroke="#231f20" stroke-width="1.5" stroke-linecap="butt"/>
<line x1="610.20" y1="744.60" x2="610.20" y2="751.10" stroke="#231f20" stroke-width="1.5" stroke-linecap="butt"/>
<line x1="638.30" y1="744.60" x2="638.30" y2="751.10" stroke="#231f20" stroke-width="1.5" stroke-linecap="butt"/>
<circle cx="576.80" cy="652.50" r="2.0" fill="#231f20"/>
<circle cx="582.40" cy="652.00" r="2.0" fill="#231f20"/>
<circle cx="588.00" cy="652.50" r="2.0" fill="#231f20"/>
<circle cx="607.80" cy="650.30" r="2.0" fill="#231f20"/>
<circle cx="607.80" cy="654.00" r="2.0" fill="#231f20"/>
<circle cx="613.00" cy="651.80" r="2.0" fill="#231f20"/>
<circle cx="632.80" cy="647.00" r="2.0" fill="#231f20"/>
<circle cx="638.30" cy="645.50" r="2.0" fill="#231f20"/>
<circle cx="643.80" cy="647.00" r="2.0" fill="#231f20"/>
<polyline points="582.40,607.80 582.40,599.60 638.30,599.60 638.30,621.00" fill="none" stroke="#231f20" stroke-width="1.5" stroke-linejoin="miter"/>
<path d="M606.65,588.05L606.65,594.35M603.92,589.62L609.38,592.78M609.38,589.62L603.92,592.78M615.15,588.05L615.15,594.35M612.42,589.62L617.88,592.78M617.88,589.62L612.42,592.78" stroke="#231f20" stroke-width="1.3" fill="none"/>
<polyline points="582.40,643.90 582.40,629.00 607.40,629.00 607.40,641.50" fill="none" stroke="#231f20" stroke-width="1.5" stroke-linejoin="miter"/>
<text x="594.75" y="622.70" font-size="12.5" font-weight="normal" text-anchor="middle" fill="#333333">ns</text>
<polyline points="612.70,641.50 612.70,629.00 638.30,629.00 638.30,637.90" fill="none" stroke="#231f20" stroke-width="1.5" stroke-linejoin="miter"/>
<path d="M626.35,617.30L626.35,623.60M623.62,618.88L629.08,622.03M629.08,618.88L623.62,622.03" stroke="#231f20" stroke-width="1.3" fill="none"/>
<text x="610.40" y="569.60" font-size="13.7" font-weight="bold" text-anchor="middle" fill="#231f20">72 hours</text>
<text x="587.10" y="761.10" font-size="10.3" font-weight="bold" text-anchor="end" fill="#231f20" transform="rotate(-45 587.10 761.10)">Unstimulated</text>
<text x="614.90" y="761.10" font-size="10.3" font-weight="bold" text-anchor="end" fill="#231f20" transform="rotate(-45 614.90 761.10)">LNP-no ionizable lipid</text>
<text x="643.00" y="761.10" font-size="10.3" font-weight="bold" text-anchor="end" fill="#231f20" transform="rotate(-45 643.00 761.10)">LNP-ALC315</text>
<text x="69.40" y="673.80" font-size="11.3" font-weight="bold" text-anchor="middle" fill="#231f20" transform="rotate(-90 69.40 673.80)">IRF Activity</text>
<text x="82.80" y="674.30" font-size="11.2" font-weight="bold" text-anchor="middle" fill="#231f20" transform="rotate(-90 82.80 674.30)">(LUCIA expression-RLU)</text>
</svg>
</body></html>
